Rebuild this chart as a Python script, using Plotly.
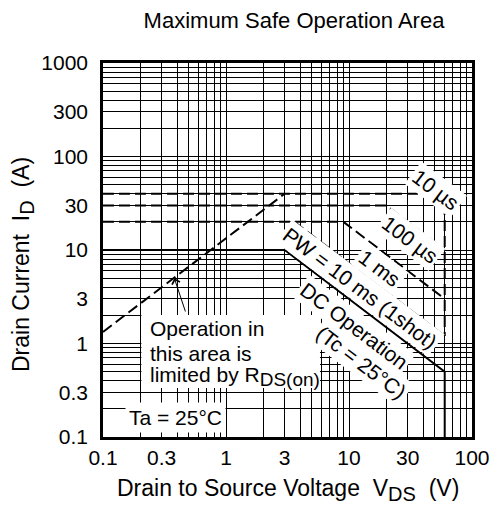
import math
import plotly.graph_objects as go

# ---- data (V in volts, I in amperes) ----
rds_v = [0.1, 3.0]
rds_i = [1.33, 40]

pw10us_v = [0.1, 60, 60]
pw10us_i = [40, 40, 1.2]

pw100us_v = [0.1, 20, 60]
pw100us_i = [30, 30, 10]

pw1ms_v = [0.1, 9, 60]
pw1ms_i = [20, 20, 3]

pw10ms_v = [3.6, 60]
pw10ms_i = [20, 1.2]

dc_v = [0.1, 3, 60, 60]
dc_i = [10, 10, 0.5, 0.1]

x_ticks = [0.1, 0.3, 1, 3, 10, 30, 100]
x_ticktext = ["0.1", "0.3", "1", "3", "10", "30", "100"]
y_ticks = [0.1, 0.3, 1, 3, 10, 30, 100, 300, 1000]
y_ticktext = ["0.1", "0.3", "1", "3", "10", "30", "100", "300", "1000"]

FONT = "Liberation Sans, Arial, sans-serif"
DASH = "11px,5px"
FS = 21

fig = go.Figure()

def add(v, i, dash):
    fig.add_trace(go.Scatter(x=v, y=i, mode="lines",
                             line=dict(color="black", width=2, dash=dash),
                             showlegend=False, hoverinfo="skip"))

add(rds_v, rds_i, DASH)
add(pw10us_v, pw10us_i, DASH)
add(pw100us_v, pw100us_i, DASH)
add(pw1ms_v, pw1ms_i, DASH)
add(pw10ms_v, pw10ms_i, DASH)
add(dc_v, dc_i, "solid")

minor_x = [k * 10 ** e for e in range(-1, 2) for k in range(2, 10)]
minor_y = [k * 10 ** e for e in range(-1, 3) for k in range(2, 10)]

grid = dict(showgrid=True, gridcolor="black", gridwidth=1)

fig.update_xaxes(type="log", range=[-1, 2], tickmode="array", tickvals=x_ticks,
                 ticktext=x_ticktext, ticks="", ticklen=0, ticklabelstandoff=0,
                 tickfont=dict(size=FS),
                 showline=True, mirror=True, linecolor="black", linewidth=2.5,
                 zeroline=False,
                 minor=dict(tickmode="array", tickvals=minor_x, showgrid=True,
                            gridcolor="black", gridwidth=1, ticks=""),
                 **grid)
fig.update_yaxes(type="log", range=[-1, 3], tickmode="array", tickvals=y_ticks,
                 ticktext=y_ticktext, ticks="", ticklabelstandoff=8,
                 tickfont=dict(size=FS),
                 showline=True, mirror=True, linecolor="black", linewidth=2.5,
                 zeroline=False,
                 minor=dict(tickmode="array", tickvals=minor_y, showgrid=True,
                            gridcolor="black", gridwidth=1, ticks=""),
                 **grid)

def ann(x, y, text, angle=0, pad=2, bg="white", **kw):
    fig.add_annotation(x=math.log10(x), y=math.log10(y), xref="x", yref="y",
                       text=text, showarrow=False, textangle=angle,
                       bgcolor=bg, font=dict(size=FS, color="black"),
                       borderpad=pad, **kw)

# white panel behind the R_DS(on) note
fig.add_shape(type="rect", xref="paper", yref="paper",
              x0=0.104, x1=0.588, y0=0.131, y1=0.326,
              fillcolor="white", line=dict(width=0), layer="above")

ann(50.5, 44.5, "10 µs", 37)
ann(31.2, 12.8, "100 µs", 37)
ann(17.9, 6.4, "1 ms", 37)
ann(12.4, 3.9, "PW = 10 ms (1shot)", 37)
ann(10.9, 1.55, "DC Operation", 37)
ann(12.6, 0.62, "(Tc = 25°C)", 37)
ann(0.238, 1.43, "Operation in", bg=None, pad=0, xanchor="left")
ann(0.238, 0.79, "this area is", bg=None, pad=0, xanchor="left")
ann(0.238, 0.439,
    'limited by R<sub><span style="font-size:19px">DS(on)</span></sub>',
    bg=None, pad=0, xanchor="left")
ann(0.392, 0.16, "Ta = 25°C", pad=3)

# arrow pointing to the R_DS(on) limit line
fig.add_annotation(x=math.log10(0.38), y=math.log10(5.0), xref="x", yref="y",
                   ax=math.log10(0.472), ay=math.log10(2.12), axref="x", ayref="y",
                   text="", showarrow=True, arrowhead=4, arrowsize=1.6,
                   arrowwidth=1, arrowcolor="black")

# axis titles
fig.add_annotation(x=0.5, y=-0.142, xref="paper", yref="paper",
                   text='Drain to Source Voltage&nbsp;&nbsp;V<sub><span style="font-size:20px">DS</span></sub>&nbsp;&nbsp;(V)',
                   showarrow=False, font=dict(size=23), xanchor="center", yanchor="middle")
fig.add_annotation(x=-0.2166, y=0.46, xref="paper", yref="paper",
                   text='Drain Current&nbsp;&nbsp;I<sub><span style="font-size:20px">D</span></sub>&nbsp;&nbsp;(A)',
                   showarrow=False, font=dict(size=23), textangle=-90,
                   xanchor="center", yanchor="middle")

fig.update_layout(
    width=494, height=517,
    margin=dict(l=95, r=25, t=55, b=88),
    paper_bgcolor="white", plot_bgcolor="white",
    font=dict(family=FONT, size=FS, color="black"),
    title=dict(text="Maximum Safe Operation Area", x=0.579, xanchor="center",
               y=0.9758, yanchor="middle", font=dict(size=22)),
    showlegend=False,
)

fig.write_html("out.html")
